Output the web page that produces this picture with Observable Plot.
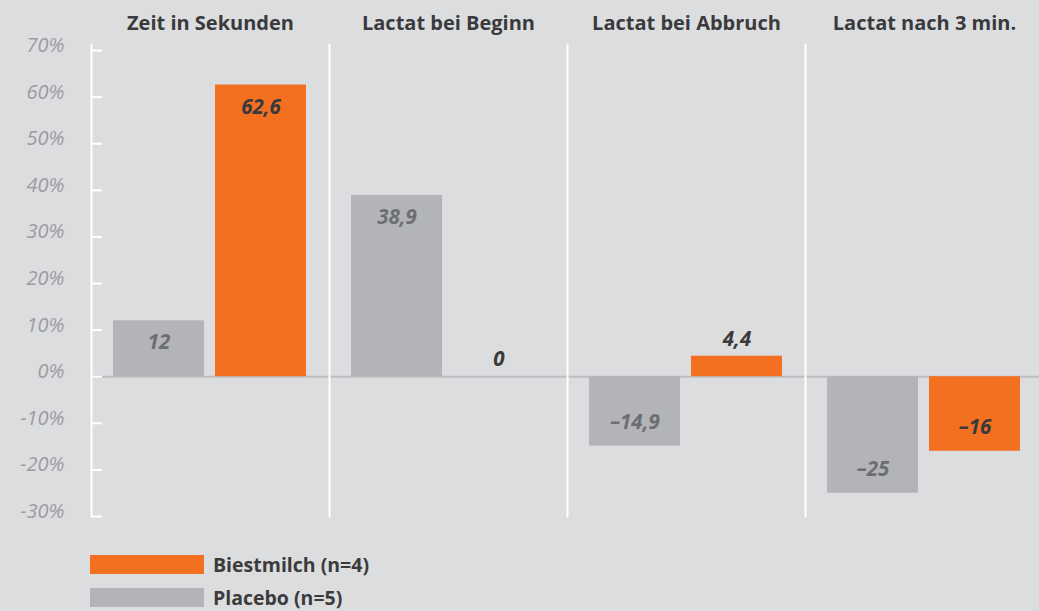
<!DOCTYPE html>
<html><head><meta charset="utf-8">
<script src="https://cdn.jsdelivr.net/npm/d3@7"></script>
<script src="https://cdn.jsdelivr.net/npm/@observablehq/plot@0.6"></script>
<style>
body{margin:0;background:#dcdddf;font-family:"Open Sans",Lato,sans-serif;overflow:hidden;}
#chart svg{display:block;}
#legend{margin-left:90px;padding-top:25px;}
.item{display:flex;align-items:center;height:19px;margin-bottom:14px;font-weight:700;font-size:19.5px;color:#3b3b3b;}
.sw{width:114px;height:19px;margin-right:9px;}
</style></head><body><div id="chart"></div><div id="legend"></div>
<script>
const groups = ["Zeit in Sekunden", "Lactat bei Beginn", "Lactat bei Abbruch", "Lactat nach 3 min."];
const seriesNames = ["Placebo", "Biestmilch"];
const placeboValues = [12, 38.9, -14.9, -25];
const biestmilchValues = [62.6, 0, 4.4, -16];
const yTicks = [70, 60, 50, 40, 30, 20, 10, 0, -10, -20, -30];
const legendItems = [["Biestmilch", "Biestmilch (n=4)"], ["Placebo", "Placebo (n=5)"]];
const barColors = ["#b3b4b7", "#f37021"];
const labelColors = {Placebo: "#6d6e71", Biestmilch: "#3a3a3c"};

const data = [];
groups.forEach((g, i) => {
  data.push({group: g, series: "Placebo", value: placeboValues[i]});
  data.push({group: g, series: "Biestmilch", value: biestmilchValues[i]});
});
const fmt = d => (d.value < 0 ? "\u2013" : "") + String(Math.abs(d.value)).replace(".", ",");

const labelFont = {fontSize: 20.5, fontWeight: "bold", fontStyle: "italic", text: fmt, fx: "group", x: "series", y: "value"};
const labelMarks = [];
for (const s of seriesNames) {
  labelMarks.push(Plot.text(data, {...labelFont, filter: d => d.series === s && d.value >= 10, dy: 22, fill: labelColors[s]}));
  labelMarks.push(Plot.text(data, {...labelFont, filter: d => d.series === s && d.value < 0, dy: -24, fill: labelColors[s]}));
  labelMarks.push(Plot.text(data, {...labelFont, filter: d => d.series === s && d.value >= 0 && d.value < 10, dy: -17, fill: labelColors[s]}));
}

const chart = Plot.plot({
  width: 1039,
  height: 530,
  marginLeft: 90,
  marginRight: -4,
  marginTop: 44,
  marginBottom: 14,
  style: {background: "#dcdddf", fontFamily: "'Open Sans', Lato, sans-serif"},
  fx: {domain: groups, padding: 0, label: null},
  x: {domain: seriesNames, paddingInner: 0.107, paddingOuter: 0.2136, axis: null},
  y: {domain: [-30, 71.3], axis: null, label: null},
  color: {domain: seriesNames, range: barColors},
  marks: [
    Plot.ruleY([0], {stroke: "#bdbec1", strokeWidth: 2}),
    Plot.frame({anchor: "left", stroke: "white", strokeWidth: 2}),
    Plot.barY(data, {fx: "group", x: "series", y: "value", fill: "series"}),
    Plot.axisY({ticks: yTicks, tickSize: -11, stroke: "white", strokeWidth: 2, tickFormat: () => "", label: null}),
    Plot.axisY({ticks: yTicks, tickSize: 0, tickPadding: 27, dy: -5, tickFormat: d => d + "%", fontSize: 20, fontStyle: "italic", fill: "#9c9c9f", label: null}),
    Plot.axisFx({anchor: "top", tickSize: 0, tickPadding: 15, label: null, fontSize: 20, fontWeight: "bold", fill: "#3a3a3c"}),
    ...labelMarks
  ]
});
document.getElementById("chart").append(chart);

const legend = document.getElementById("legend");
const colorOf = Object.fromEntries(seriesNames.map((s, i) => [s, barColors[i]]));
for (const [s, label] of legendItems) {
  const item = document.createElement("div");
  item.className = "item";
  const sw = document.createElement("div");
  sw.className = "sw";
  sw.style.background = colorOf[s];
  const t = document.createElement("span");
  t.textContent = label;
  item.append(sw, t);
  legend.append(item);
}
</script></body></html>
